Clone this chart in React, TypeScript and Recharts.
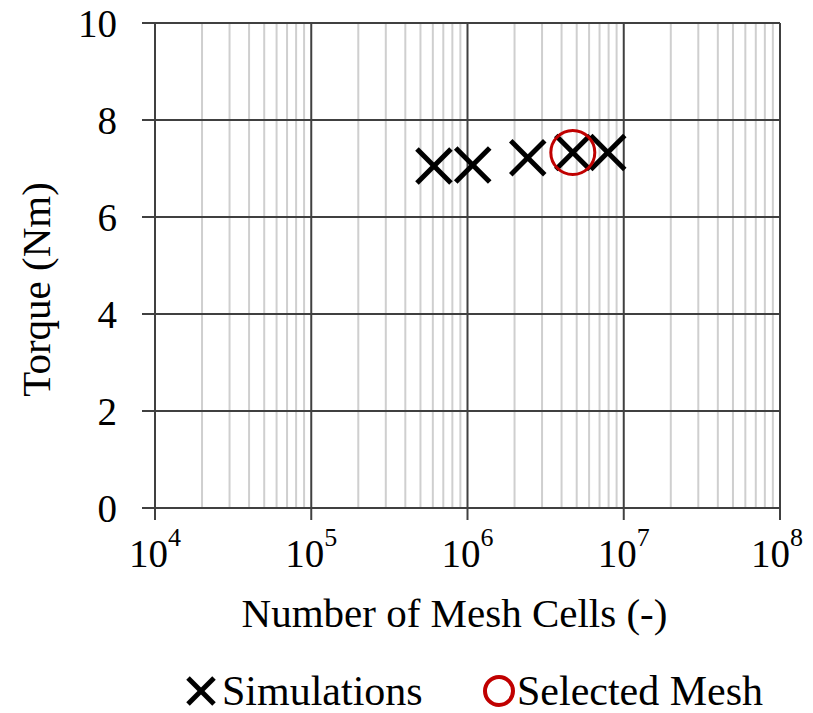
import { ScatterChart, Scatter, XAxis, YAxis, CartesianGrid, ReferenceLine, Legend } from 'recharts';

// mesh study: cells vs torque
const meshCells = [6.1e5, 1.08e6, 2.43e6, 4.72e6, 7.9e6];
const torque = [7.05, 7.07, 7.22, 7.33, 7.33];

const selectedCells = [4.72e6];
const selectedTorque = [7.33];

const xTicks = [1e4, 1e5, 1e6, 1e7, 1e8];
const yTicks = [0, 2, 4, 6, 8, 10];
const minorSteps = [2, 3, 4, 5, 6, 7, 8, 9];

const simData = meshCells.map((cells, i) => ({ cells, torque: torque[i] }));
const selData = selectedCells.map((cells, i) => ({ cells, torque: selectedTorque[i] }));
const minorTicks = xTicks.slice(0, -1).flatMap((d) => minorSteps.map((m) => d * m));

const FONT = '"Liberation Serif", "Times New Roman", serif';
const RED = '#c00000';

function XMark({ cx, cy, r = 17, w = 5 }: { cx: number; cy: number; r?: number; w?: number }) {
  return (
    <g stroke="#000" strokeWidth={w} strokeLinecap="butt">
      <line x1={cx - r} y1={cy - r} x2={cx + r} y2={cy + r} />
      <line x1={cx - r} y1={cy + r} x2={cx + r} y2={cy - r} />
    </g>
  );
}

function PowerTick({ x, y, payload }: any) {
  const exp = Math.round(Math.log10(payload.value));
  return (
    <text x={x} y={y + 45} textAnchor="middle" fontFamily={FONT} fontSize={39} fill="#000">
      10
      <tspan dy={-21} fontSize={26}>{exp}</tspan>
    </text>
  );
}

function LegendBox() {
  return (
    <svg width={813} height={70} style={{ display: 'block' }}>
      <XMark cx={201} cy={48} r={13} w={5} />
      <text x={222} y={62} fontFamily={FONT} fontSize={42} fill="#000">Simulations</text>
      <circle cx={499} cy={48} r={14} fill="none" stroke={RED} strokeWidth={4} />
      <text x={517} y={62} fontFamily={FONT} fontSize={42} fill="#000">Selected Mesh</text>
    </svg>
  );
}

export default function App() {
  return (
    <div style={{ position: 'absolute', left: 0, top: 0, background: '#fff' }}>
      <ScatterChart width={813} height={713} margin={{ top: 23, right: 33, left: 0, bottom: 0 }}>
        <CartesianGrid horizontal={false} stroke="#404040" strokeWidth={2} />
        {minorTicks.map((v) => (
          <ReferenceLine key={v} x={v} stroke="#cfcfcf" strokeWidth={2} />
        ))}
        {yTicks.map((v) => (
          <ReferenceLine key={'y' + v} y={v} stroke="#404040" strokeWidth={2} />
        ))}
        <XAxis
          dataKey="cells"
          type="number"
          scale="log"
          domain={[1e4, 1e8]}
          ticks={xTicks}
          allowDataOverflow
          height={135}
          tickSize={12}
          axisLine={{ stroke: '#404040', strokeWidth: 2 }}
          tickLine={{ stroke: '#404040', strokeWidth: 2 }}
          tick={<PowerTick />}
          label={{
            value: 'Number of Mesh Cells (-)',
            position: 'insideBottom',
            offset: 16,
            dx: -13,
            style: { fontFamily: FONT, fontSize: 41, fill: '#000' },
          }}
        />
        <YAxis
          dataKey="torque"
          type="number"
          domain={[0, 10]}
          ticks={yTicks}
          width={155}
          tickSize={13}
          tickMargin={25}
          axisLine={{ stroke: '#404040', strokeWidth: 2 }}
          tickLine={{ stroke: '#404040', strokeWidth: 2 }}
          tick={{ fontFamily: FONT, fontSize: 39, fill: '#000' }}
          label={{
            value: 'Torque (Nm)',
            angle: -90,
            position: 'insideLeft',
            dx: 30,
            dy: 24,
            style: { fontFamily: FONT, fontSize: 41, fill: '#000', textAnchor: 'middle' },
          }}
        />
        <Legend verticalAlign="bottom" height={70} content={() => <LegendBox />} wrapperStyle={{ height: 70 }} />
        <Scatter
          name="Simulations"
          data={simData}
          isAnimationActive={false}
          shape={(p: any) => <XMark cx={p.cx} cy={p.cy} />}
        />
        <Scatter
          name="Selected Mesh"
          data={selData}
          isAnimationActive={false}
          shape={(p: any) => <circle cx={p.cx} cy={p.cy} r={22} fill="none" stroke={RED} strokeWidth={3} />}
        />
      </ScatterChart>
    </div>
  );
}
